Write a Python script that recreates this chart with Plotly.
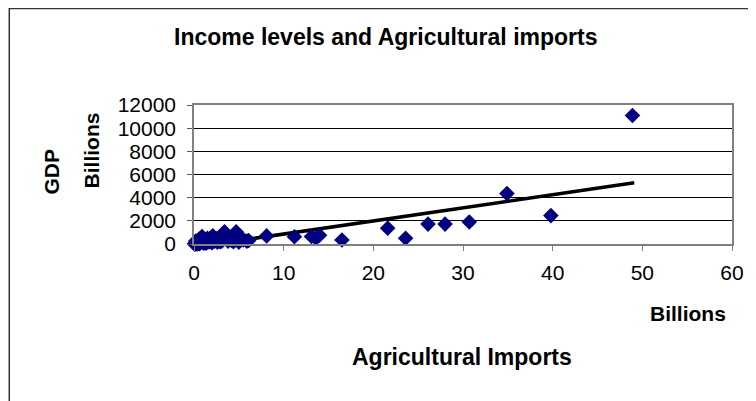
import plotly.graph_objects as go

# Agricultural imports (billions) and GDP (billions)
imports_bn = [48.9, 39.8, 34.9, 30.7, 28.0, 26.1, 23.6, 21.6, 16.5, 14.0, 13.6, 13.1, 11.2, 8.1,
              0.05, 0.1, 0.15, 0.2, 0.25, 0.3, 0.35, 0.4, 0.5, 0.55, 0.6, 0.7, 0.8, 0.9, 1.0,
              1.1, 1.2, 1.3, 1.4, 1.5, 1.7, 1.8, 2.0, 2.1, 2.3, 2.5, 2.7, 2.9, 3.0, 3.2, 3.4,
              3.6, 3.8, 4.0, 4.2, 4.5, 4.7, 4.9, 5.2, 5.5, 5.9,
              0.2, 0.45, 0.65, 0.95, 1.25, 1.6, 1.9, 2.2, 2.6, 3.1, 3.5, 3.9, 4.4, 4.8, 5.0, 5.4, 6.1]
gdp_bn = [11100, 2450, 4350, 1900, 1720, 1720, 500, 1370, 350, 750, 500, 650, 630, 700,
          10, 30, 5, 60, 20, 120, 15, 80, 40, 200, 25, 100, 300, 650, 150,
          60, 400, 220, 90, 500, 180, 350, 120, 700, 250, 450, 300, 200, 600, 380, 1050,
          550, 250, 420, 300, 600, 1050, 450, 500, 350, 250,
          250, 350, 450, 400, 100, 300, 550, 400, 150, 250, 700, 500, 200, 650, 150, 450, 300]

# linear trend line
trend_x = [0.05, 49.1]
trend_y = [-265, 5280]

x_ticks = [0, 10, 20, 30, 40, 50, 60]
y_ticks = [0, 2000, 4000, 6000, 8000, 10000, 12000]

FONT = "Liberation Sans, Arial, sans-serif"

fig = go.Figure()
fig.add_trace(go.Scatter(x=trend_x, y=trend_y, mode="lines",
                         line=dict(color="black", width=3.5), showlegend=False,
                         hoverinfo="skip"))
fig.add_trace(go.Scatter(x=imports_bn, y=gdp_bn, mode="markers",
                         marker=dict(symbol="diamond", size=12, color="#000080",
                                     line=dict(width=0)),
                         cliponaxis=False, showlegend=False))

# page has an 8px body margin; coordinates below are figure pixels
L, R, T, B = 186, 726, 97, 236
W, H = 748, 393
pw, ph = R - L, B - T

def px(x):
    return (x - L) / pw

def py(y):
    return (B - y) / ph

def ann(text, x, y, size, angle=0):
    return dict(text=text, x=px(x), y=py(y), xref="paper", yref="paper",
                xanchor="center", yanchor="middle", showarrow=False,
                textangle=angle, font=dict(family=FONT, size=size, color="black"))

annotations = [
    ann("<b>Income levels and Agricultural imports</b>", 378, 29, 23),
    ann("<b>Billions</b>", 682, 305, 21),
    ann("<b>Agricultural Imports</b>", 455, 349, 23),
    ann("<b>GDP</b>", 42, 164, 21, -90),
    ann("<b>Billions</b>", 83, 142, 21, -90),
]

fig.update_layout(
    width=W, height=H,
    margin=dict(l=L, r=W - R, t=T, b=H - B),
    paper_bgcolor="white", plot_bgcolor="white",
    font=dict(family=FONT, size=21, color="black"),
    annotations=annotations,
    shapes=[dict(type="rect", xref="paper", yref="paper",
                 x0=px(0.6), x1=px(790), y0=py(440), y1=py(0.6),
                 line=dict(color="#333333", width=1.5), layer="below")],
    xaxis=dict(range=[0, 60], tickvals=x_ticks, ticktext=[str(v) for v in x_ticks],
               showgrid=False, zeroline=False, showline=True, mirror=True,
               linecolor="#808080", linewidth=1.5, ticks="outside", ticklen=5,
               tickcolor="#808080", ticklabelstandoff=4,
               tickfont=dict(family=FONT, size=21, color="black")),
    yaxis=dict(range=[0, 12000], tickvals=y_ticks, ticktext=[str(v) for v in y_ticks],
               showgrid=True, gridcolor="black", gridwidth=1, zeroline=False,
               showline=True, mirror=True, linecolor="#808080", linewidth=1.5,
               ticks="outside", ticklen=5, tickcolor="#555555", ticklabelstandoff=7,
               tickfont=dict(family=FONT, size=21, color="black")),
)

fig.write_html("out.html")
